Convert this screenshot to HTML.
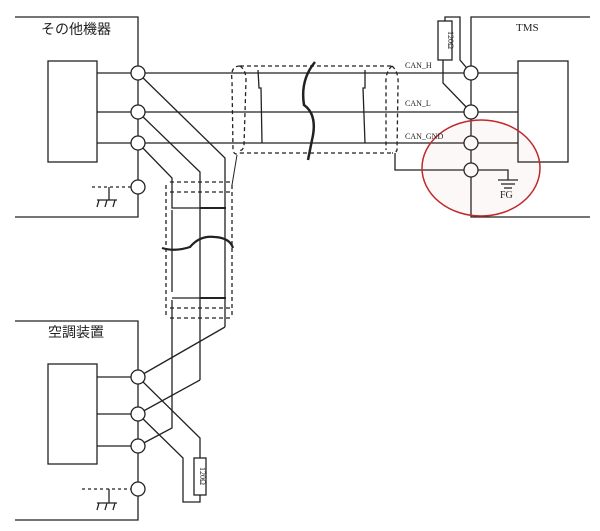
<!DOCTYPE html>
<html><head><meta charset="utf-8"><style>body{margin:0;background:#fff}svg{display:block}</style></head><body>
<svg width="600" height="531" viewBox="0 0 600 531" xmlns="http://www.w3.org/2000/svg" font-family="'Liberation Serif','Noto Sans CJK JP',serif">
<g stroke="#222" stroke-width="1.3" fill="none">
<!-- left device -->
<polyline points="15,17 138,17 138,217 15,217"/>
<rect x="48" y="61" width="49" height="101"/>
<line x1="97" y1="73" x2="518" y2="73"/>
<line x1="97" y1="112" x2="518" y2="112"/>
<line x1="97" y1="143" x2="475" y2="143"/>
<line x1="92" y1="187" x2="138" y2="187" stroke-dasharray="3,3"/>
<line x1="109" y1="187" x2="109" y2="200"/>
<line x1="97" y1="200" x2="117" y2="200"/>
<path d="M99,200 l-2,7 M107,200 l-2,7 M115,200 l-2,7"/>
<!-- right device -->
<polyline points="590,17 471,17 471,217 590,217"/>
<rect x="518" y="61" width="50" height="101"/>
<line x1="471" y1="143" x2="518" y2="143"/>
<polyline points="395,153 395,170 508,170 508,180"/>
<line x1="498" y1="180" x2="518" y2="180"/>
<line x1="501" y1="184" x2="515" y2="184"/>
<line x1="504" y1="188" x2="512" y2="188"/>
<rect x="438" y="21" width="14" height="39"/>
<polyline points="445,21 445,17 460,17 460,60 471,73"/>
<polyline points="443,60 443,83 471,112"/>
<!-- horizontal shield -->
<path d="M240,66 L392,66 M240,153 L392,153" stroke-dasharray="4,3"/>
<path d="M240,66 Q230,66 232,80 L233,150 Q234,156 240,153 M240,66 Q246,70 246,80 L244,145 Q243,152 238,150" stroke-dasharray="4,3"/>
<path d="M392,66 Q385,72 386,85 L386,150 M392,66 Q399,72 398,85 L397,150 Q396,153 392,153" stroke-dasharray="4,3"/>
<polyline points="258,70 259,88 261,88 262,143"/>
<polyline points="365,70 365,88 363,88 365,143"/>
<path d="M315,62 Q300,80 304,105 Q318,115 312,140 L308,160" stroke-width="2.5"/>
<path d="M237,155 L232,185" stroke-width="1"/>
<!-- left diagonals -->
<polyline points="138,73 225,158 225,327"/>
<polyline points="138,112 200,172 200,380"/>
<polyline points="138,143 172,178 172,208 200,208"/>
<polyline points="172,210 172,292"/>
<polyline points="172,298 200,298"/>
<polyline points="172,300 172,428 138,446"/>
<line x1="200" y1="208" x2="226" y2="208" stroke-width="2"/>
<line x1="200" y1="298" x2="226" y2="298" stroke-width="2"/>
<!-- vertical shield -->
<path d="M170,182 L230,182 M170,192 L230,192 M170,308 L230,308 M170,318 L230,318 M166,185 L166,318 M232,185 L232,318" stroke-dasharray="4,3"/>
<path d="M162,248 Q175,252 190,247 Q200,235 215,237 Q230,238 233,248" stroke-width="2.2"/>
<!-- bottom device -->
<polyline points="15,321 138,321 138,520 15,520"/>
<rect x="48" y="364" width="49" height="100"/>
<line x1="97" y1="377" x2="138" y2="377"/>
<line x1="97" y1="414" x2="138" y2="414"/>
<line x1="97" y1="446" x2="138" y2="446"/>
<line x1="138" y1="377" x2="225" y2="327"/>
<polyline points="138,414 200,380"/>
<polyline points="138,377 200,438 200,458"/>
<polyline points="138,414 183,458 183,502 200,502 200,495"/>
<rect x="194" y="458" width="12" height="37"/>
<line x1="82" y1="489" x2="138" y2="489" stroke-dasharray="3,3"/>
<line x1="109" y1="489" x2="109" y2="503"/>
<line x1="97" y1="503" x2="117" y2="503"/>
<path d="M99,503 l-2,7 M107,503 l-2,7 M115,503 l-2,7"/>
</g>
<g fill="#fff" stroke="#222" stroke-width="1.3">
<circle cx="138" cy="73" r="7"/><circle cx="138" cy="112" r="7"/><circle cx="138" cy="143" r="7"/><circle cx="138" cy="187" r="7"/>
<circle cx="471" cy="73" r="7"/><circle cx="471" cy="112" r="7"/><circle cx="471" cy="143" r="7"/><circle cx="471" cy="170" r="7"/>
<circle cx="138" cy="377" r="7"/><circle cx="138" cy="414" r="7"/><circle cx="138" cy="446" r="7"/><circle cx="138" cy="489" r="7"/>
</g>
<ellipse cx="481" cy="168" rx="59" ry="48" fill="rgba(200,120,120,0.05)" stroke="#c0282a" stroke-width="1.5"/>
<g fill="#222" font-size="8">
<text x="405" y="68">CAN_H</text><text x="405" y="106">CAN_L</text><text x="405" y="139">CAN_GND</text>
<text x="500" y="198" font-size="10">FG</text>
<text x="516" y="31" font-size="11">TMS</text>
<text x="448" y="40" font-size="8" transform="rotate(90 448 40)" text-anchor="middle">120Ω</text>
<text x="200" y="476" font-size="8" transform="rotate(90 200 476)" text-anchor="middle">120Ω</text>
<text x="41" y="34" font-size="14" font-family="'Liberation Sans','Noto Sans CJK JP',sans-serif">その他機器</text>
<text x="48" y="337" font-size="14" font-family="'Liberation Sans','Noto Sans CJK JP',sans-serif">空調装置</text>
</g>
</svg>
</body></html>
